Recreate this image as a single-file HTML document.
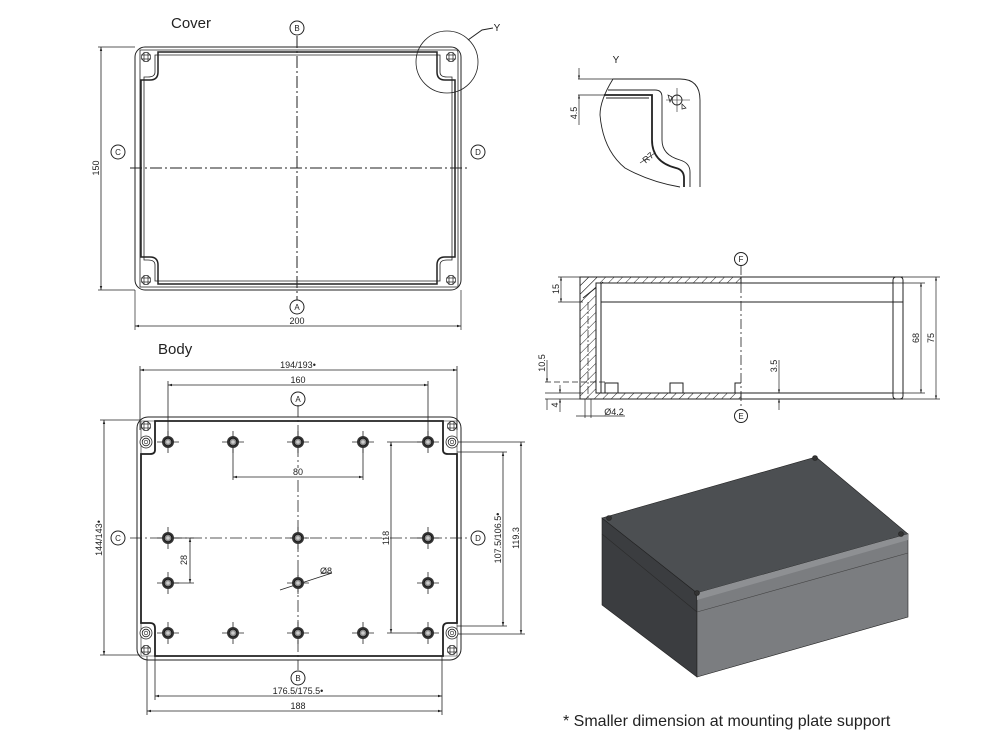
<!DOCTYPE html>
<html><head><meta charset="utf-8"><style>
html,body{margin:0;padding:0;background:#fff;width:994px;height:735px;overflow:hidden}
svg{display:block}
text{font-family:"Liberation Sans",sans-serif;fill:#222}
</style></head><body>
<svg width="994" height="735" viewBox="0 0 994 735" xmlns="http://www.w3.org/2000/svg">
<defs>
<pattern id="h" width="6" height="6" patternUnits="userSpaceOnUse" patternTransform="rotate(45)"><line x1="0" y1="0" x2="0" y2="6" stroke="#222" stroke-width="1"/></pattern>
<g id="hole"><line x1="-11" y1="0" x2="11" y2="0" stroke="#222" stroke-width="0.8"/><line x1="0" y1="-11" x2="0" y2="11" stroke="#222" stroke-width="0.8"/><circle r="6" fill="#333"/><circle r="3.8" fill="#888" stroke="#111" stroke-width="0.8"/><circle r="1.8" fill="#ccc"/></g>
<g id="ch"><circle r="6" fill="#fff" stroke="#222" stroke-width="0.8"/><circle r="3.8" fill="none" stroke="#222" stroke-width="0.8"/><circle r="1.8" fill="none" stroke="#222" stroke-width="0.6"/></g>
<g id="hx"><line x1="-5" y1="-2" x2="5" y2="-2" stroke="#222" stroke-width="0.7"/><line x1="-5" y1="2" x2="5" y2="2" stroke="#222" stroke-width="0.7"/><line x1="-2" y1="-5" x2="-2" y2="5" stroke="#222" stroke-width="0.7"/><line x1="2" y1="-5" x2="2" y2="5" stroke="#222" stroke-width="0.7"/><circle r="4.5" fill="none" stroke="#222" stroke-width="0.7"/></g>
<marker id="a" viewBox="0 0 10 10" refX="10" refY="5" markerWidth="7" markerHeight="5" orient="auto-start-reverse"><path d="M0,2 L10,5 L0,8z" fill="#222"/></marker>
</defs>
<g stroke="#222" fill="none" stroke-width="1">

<!-- COVER -->
<rect x="135" y="47" width="326" height="243" rx="10"/>
<path d="M140,50 H456 Q458,50 458,53 V287 H140 Z" stroke-width="0.8"/>
<path d="M158,52 H437 V72 Q437,80 445,80 H455 V257 H445 Q437,257 437,265 V284 H158 V265 Q158,257 150,257 H141 V80 H150 Q158,80 158,72 Z" stroke-width="1.5"/>
<path d="M155,55 H440 V72 Q440,77 447,77 H452 V260 H447 Q440,260 440,265 V281 H155 V265 Q155,260 148,260 H144 V77 H148 Q155,77 155,72 Z" stroke-width="0.8"/>
<use href="#hx" x="146" y="57"/><use href="#hx" x="451" y="57"/><use href="#hx" x="146" y="280"/><use href="#hx" x="451" y="280"/>
<line x1="297" y1="36" x2="297" y2="300" stroke-dasharray="12,3,2,3"/>
<line x1="130" y1="168" x2="467" y2="168" stroke-dasharray="12,3,2,3"/>
<circle cx="297" cy="28" r="7"/><circle cx="297" cy="307" r="7"/><circle cx="118" cy="152" r="7"/><circle cx="478" cy="152" r="7"/>
<circle cx="447" cy="62" r="31" stroke-width="0.8"/>
<polyline points="468,40 482,30 493,28"/>
<line x1="101" y1="47" x2="101" y2="290" marker-start="url(#a)" marker-end="url(#a)" stroke-width="0.8"/>
<line x1="98" y1="47" x2="135" y2="47" stroke-width="0.7"/><line x1="98" y1="290" x2="135" y2="290" stroke-width="0.7"/>
<line x1="135" y1="290" x2="135" y2="330" stroke-width="0.7"/><line x1="461" y1="290" x2="461" y2="330" stroke-width="0.7"/>
<line x1="135" y1="326" x2="461" y2="326" marker-start="url(#a)" marker-end="url(#a)" stroke-width="0.8"/>

<!-- BODY -->
<rect x="137" y="417" width="324" height="243" rx="11"/>
<path d="M155,421 H443 V450 Q443,454 448,454 H457 V623 H448 Q443,623 443,628 V656 H155 V628 Q155,623 150,623 H141 V454 H150 Q155,454 155,450 Z" stroke-width="1.8"/>
<path d="M141,421 H457 V656 H141 Z" stroke-width="0.6"/>
<line x1="298" y1="405" x2="298" y2="468" stroke-dasharray="12,3,2,3" stroke-width="0.8"/>
<line x1="298" y1="480" x2="298" y2="670" stroke-dasharray="12,3,2,3" stroke-width="0.8"/>
<line x1="130" y1="538" x2="470" y2="538" stroke-dasharray="12,3,2,3" stroke-width="0.8"/>
<circle cx="298" cy="399" r="7"/><circle cx="298" cy="678" r="7"/><circle cx="118" cy="538" r="7"/><circle cx="478" cy="538" r="7"/>
<g stroke-width="0.8">
<line x1="140" y1="366" x2="140" y2="430"/><line x1="457" y1="366" x2="457" y2="430"/>
<line x1="140" y1="370" x2="457" y2="370" marker-start="url(#a)" marker-end="url(#a)"/>
<line x1="168" y1="381" x2="168" y2="442"/><line x1="428" y1="381" x2="428" y2="442"/>
<line x1="168" y1="385" x2="428" y2="385" marker-start="url(#a)" marker-end="url(#a)"/>
<line x1="233" y1="442" x2="233" y2="480"/><line x1="363" y1="442" x2="363" y2="480"/>
<line x1="233" y1="477" x2="363" y2="477" marker-start="url(#a)" marker-end="url(#a)"/>
<line x1="168" y1="538" x2="194" y2="538"/><line x1="168" y1="583" x2="194" y2="583"/>
<line x1="190" y1="538" x2="190" y2="583" marker-start="url(#a)" marker-end="url(#a)"/>
<line x1="280" y1="590" x2="332" y2="573"/><line x1="322" y1="573" x2="332" y2="573"/>
<line x1="387" y1="442" x2="428" y2="442"/><line x1="387" y1="633" x2="428" y2="633"/>
<line x1="391" y1="442" x2="391" y2="633" marker-start="url(#a)" marker-end="url(#a)"/>
<line x1="457" y1="452" x2="507" y2="452"/><line x1="457" y1="626" x2="507" y2="626"/>
<line x1="503" y1="452" x2="503" y2="626" marker-start="url(#a)" marker-end="url(#a)"/>
<line x1="457" y1="442" x2="525" y2="442"/><line x1="457" y1="634" x2="525" y2="634"/>
<line x1="521" y1="442" x2="521" y2="634" marker-start="url(#a)" marker-end="url(#a)"/>
<line x1="100" y1="420" x2="140" y2="420"/><line x1="100" y1="655" x2="140" y2="655"/>
<line x1="104" y1="420" x2="104" y2="655" marker-start="url(#a)" marker-end="url(#a)"/>
<line x1="155" y1="656" x2="155" y2="700"/><line x1="442" y1="656" x2="442" y2="715"/>
<line x1="155" y1="696" x2="442" y2="696" marker-start="url(#a)" marker-end="url(#a)"/>
<line x1="147" y1="656" x2="147" y2="715"/>
<line x1="147" y1="711" x2="442" y2="711" marker-start="url(#a)" marker-end="url(#a)"/>
</g>
</g>
<g>
<use href="#hole" x="168" y="442"/><use href="#hole" x="233" y="442"/><use href="#hole" x="298" y="442"/><use href="#hole" x="363" y="442"/><use href="#hole" x="428" y="442"/>
<use href="#hole" x="168" y="538"/><use href="#hole" x="298" y="538"/><use href="#hole" x="428" y="538"/>
<use href="#hole" x="168" y="583"/><use href="#hole" x="298" y="583"/><use href="#hole" x="428" y="583"/>
<use href="#hole" x="168" y="633"/><use href="#hole" x="233" y="633"/><use href="#hole" x="298" y="633"/><use href="#hole" x="363" y="633"/><use href="#hole" x="428" y="633"/>
<use href="#ch" x="146" y="442"/><use href="#ch" x="452" y="442"/><use href="#ch" x="146" y="633"/><use href="#ch" x="452" y="633"/>
<use href="#hx" x="146" y="426"/><use href="#hx" x="452" y="426"/><use href="#hx" x="146" y="650"/><use href="#hx" x="452" y="650"/>
</g>

<!-- SECTION -->
<g stroke="#222" fill="none" stroke-width="1">
<path d="M580,277 H741 V283 H600 V393 H741 V399 H580 Z" fill="url(#h)"/>
<path d="M580,277 H603 L583,299 V302 H580 Z" fill="url(#h)" stroke="none"/>
<line x1="583" y1="298" x2="603" y2="282"/>
<rect x="596" y="283" width="5" height="110" fill="#fff"/>
<line x1="588" y1="302" x2="588" y2="399" stroke-dasharray="8,2,2,2" stroke-width="0.7"/>
<line x1="741" y1="277" x2="903" y2="277"/><line x1="741" y1="283" x2="893" y2="283"/>
<line x1="601" y1="302" x2="903" y2="302"/>
<line x1="741" y1="393" x2="893" y2="393"/><line x1="741" y1="399" x2="903" y2="399"/>
<rect x="893" y="277" width="10" height="122" rx="3"/>
<path d="M605,393 V383 H618 V393 M670,393 V383 H683 V393 M735,393 V383 H741"/>
<line x1="741" y1="265" x2="741" y2="410" stroke-dasharray="10,3,2,3" stroke-width="0.8"/>
<circle cx="741" cy="259" r="6.5"/><circle cx="741" cy="416" r="6.5"/>
<g stroke-width="0.7">
<line x1="558" y1="277" x2="580" y2="277"/><line x1="558" y1="302" x2="583" y2="302"/>
<line x1="561" y1="277" x2="561" y2="302" marker-start="url(#a)" marker-end="url(#a)"/>
<line x1="545" y1="382" x2="605" y2="382" stroke-dasharray="6,3"/><line x1="545" y1="393" x2="583" y2="393"/><line x1="545" y1="399" x2="580" y2="399"/>
<line x1="547" y1="360" x2="547" y2="382" marker-end="url(#a)"/><line x1="547" y1="399" x2="547" y2="410"/>
<line x1="560" y1="385" x2="560" y2="393" marker-end="url(#a)"/><line x1="560" y1="399" x2="560" y2="412" marker-start="url(#a)"/>
<line x1="585" y1="399" x2="585" y2="418"/><line x1="591" y1="399" x2="591" y2="418"/>
<line x1="576" y1="416" x2="625" y2="416"/>
<line x1="893" y1="283" x2="925" y2="283"/><line x1="893" y1="393" x2="925" y2="393"/>
<line x1="921" y1="283" x2="921" y2="393" marker-start="url(#a)" marker-end="url(#a)"/>
<line x1="903" y1="277" x2="940" y2="277"/><line x1="903" y1="399" x2="940" y2="399"/>
<line x1="936" y1="277" x2="936" y2="399" marker-start="url(#a)" marker-end="url(#a)"/>
<line x1="779" y1="360" x2="779" y2="393" marker-end="url(#a)"/><line x1="779" y1="399" x2="779" y2="410" marker-start="url(#a)"/>
</g>
</g>

<!-- DETAIL Y -->
<g stroke="#222" fill="none" stroke-width="0.9">
<path d="M613,79 H680 Q700,79 700,100 V187"/>
<path d="M613,79 Q600,100 600,115 Q603,150 625,168 Q650,182 680,187"/>
<path d="M608,90 H655 Q662,90 662,97 V140 Q662,155 680,160 Q690,163 690,172 V187"/>
<path d="M604,95 H652 V140 Q652,162 676,168 Q684,170 684,178 V187" stroke-width="1.8"/>
<path d="M606,98 H649"/>
<line x1="578" y1="79" x2="613" y2="79" stroke-width="0.7"/><line x1="578" y1="95" x2="604" y2="95" stroke-width="0.7"/>
<line x1="579" y1="68" x2="579" y2="79" marker-end="url(#a)" stroke-width="0.7"/><line x1="579" y1="95" x2="579" y2="125" marker-start="url(#a)" stroke-width="0.7"/>
<circle cx="677" cy="100" r="5"/><path d="M672,97 L668,95 L670,102 Z M682,104 L686,108 L682,109 Z" stroke-width="0.7"/>
<line x1="666" y1="100" x2="690" y2="100" stroke-width="0.6"/><line x1="677" y1="88" x2="677" y2="112" stroke-width="0.6"/>
<line x1="640" y1="163" x2="655" y2="153" stroke-width="0.7"/>
</g>

<!-- 3D box -->
<g stroke="#222" stroke-width="0.6">
<path d="M602,518 L697,593 L697,677 L602,605 Z" fill="#3b3d40"/>
<path d="M697,593 L908,534 L908,617 L697,677 Z" fill="#7b7d80"/>
<path d="M602,518 L816,457 L908,534 L697,593 Z" fill="#4c4f52"/>
<path d="M697,593 L908,534 L908,540 L697,600 Z" fill="#8e9093" stroke="none"/>
<line x1="697" y1="612" x2="908" y2="553" stroke="#444"/>
<line x1="602" y1="534" x2="697" y2="612" stroke="#2a2a2a"/>
<circle cx="609" cy="518" r="2.5" fill="#333"/><circle cx="815" cy="458" r="2.5" fill="#333"/><circle cx="901" cy="534" r="2.5" fill="#333"/><circle cx="697" cy="593" r="2.5" fill="#333"/>
</g>

<!-- TEXT -->
<text x="171" y="28" font-size="15">Cover</text>
<text x="158" y="354" font-size="15">Body</text>
<g font-size="8" text-anchor="middle">
<text x="297" y="31">B</text><text x="297" y="310">A</text><text x="118" y="155">C</text><text x="478" y="155">D</text>
<text x="298" y="402">A</text><text x="298" y="681">B</text><text x="118" y="541">C</text><text x="478" y="541">D</text>
<text x="741" y="262">F</text><text x="741" y="419">E</text>
<text x="297" y="324" font-size="9">200</text>
<text transform="translate(99,168) rotate(-90)" font-size="9">150</text>
<text x="298" y="368" font-size="9">194/193•</text>
<text x="298" y="383" font-size="9">160</text>
<text x="298" y="475" font-size="9">80</text>
<text transform="translate(187,560) rotate(-90)" font-size="9">28</text>
<text transform="translate(389,538) rotate(-90)" font-size="9">118</text>
<text transform="translate(501,538) rotate(-90)" font-size="9">107.5/106.5•</text>
<text transform="translate(519,538) rotate(-90)" font-size="9">119.3</text>
<text transform="translate(102,538) rotate(-90)" font-size="9">144/143•</text>
<text x="298" y="694" font-size="9">176.5/175.5•</text>
<text x="298" y="709" font-size="9">188</text>
<text x="326" y="574" font-size="9">Ø8</text>
<text transform="translate(559,289) rotate(-90)" font-size="9">15</text>
<text transform="translate(545,363) rotate(-90)" font-size="9">10.5</text>
<text transform="translate(558,405) rotate(-90)" font-size="9">4</text>
<text x="614" y="415" font-size="9">Ø4.2</text>
<text transform="translate(919,338) rotate(-90)" font-size="9">68</text>
<text transform="translate(934,338) rotate(-90)" font-size="9">75</text>
<text transform="translate(777,366) rotate(-90)" font-size="9">3.5</text>
<text transform="translate(577,113) rotate(-90)" font-size="9">4.5</text>
<text transform="translate(650,160) rotate(-40)" font-size="9">R7</text>
<text x="616" y="63" font-size="10">Y</text>
<text x="497" y="31" font-size="10">Y</text>
</g>
<text x="563" y="726" font-size="16">* Smaller dimension at mounting plate support</text>
</svg>
</body></html>
